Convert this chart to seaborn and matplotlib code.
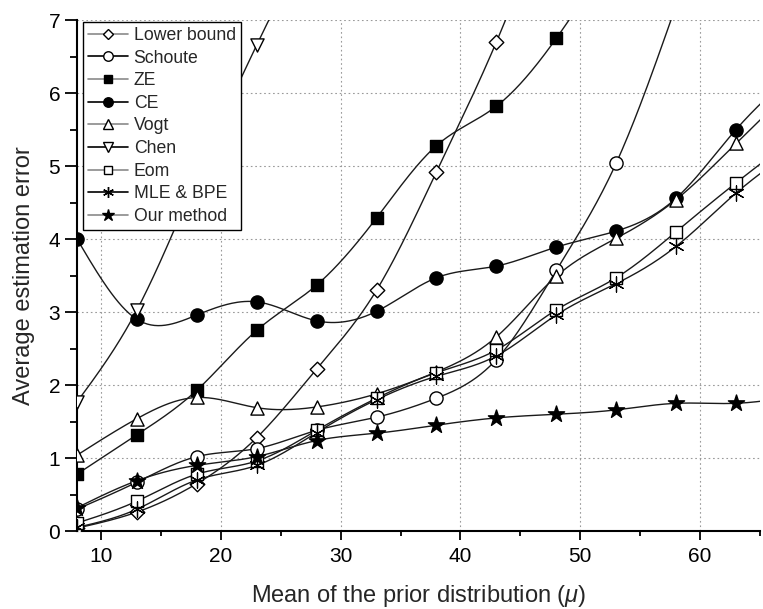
import numpy as np
import pandas as pd
import seaborn as sns
import matplotlib.pyplot as plt
from matplotlib.lines import Line2D

# x values (mean of the prior distribution)
mu = [8, 13, 18, 23, 28, 33, 38, 43, 48, 53, 58, 63, 68]
nan = np.nan

lower_bound = [0.04, 0.26, 0.65, 1.28, 2.22, 3.30, 4.92, 6.70, 8.8, nan, nan, nan, nan]
schoute = [0.30, 0.67, 1.02, 1.13, 1.38, 1.56, 1.82, 2.35, 3.57, 5.04, 7.2, nan, nan]
ze = [0.78, 1.32, 1.93, 2.75, 3.37, 4.29, 5.28, 5.82, 6.75, 8.0, nan, nan, nan]
ce = [4.00, 2.90, 2.96, 3.14, 2.88, 3.01, 3.47, 3.63, 3.89, 4.11, 4.56, 5.50, 6.3]
vogt = [1.04, 1.54, 1.83, 1.69, 1.70, 1.88, 2.18, 2.66, 3.49, 4.01, 4.54, 5.31, 6.1]
chen = [1.77, 3.03, 4.85, 6.66, 8.3, nan, nan, nan, nan, nan, nan, nan, nan]
eom = [0.11, 0.41, 0.78, 0.96, 1.38, 1.82, 2.17, 2.48, 3.03, 3.47, 4.10, 4.77, 5.4]
mle_bpe = [0.05, 0.30, 0.70, 0.90, 1.35, 1.80, 2.12, 2.40, 2.96, 3.39, 3.90, 4.63, 5.25]
our_method = [0.32, 0.69, 0.90, 1.02, 1.24, 1.34, 1.45, 1.55, 1.60, 1.66, 1.75, 1.75, 1.85]

names = ["Lower bound", "Schoute", "ZE", "CE", "Vogt", "Chen", "Eom", "MLE & BPE", "Our method"]
values = [lower_bound, schoute, ze, ce, vogt, chen, eom, mle_bpe, our_method]
# marker, face colour, size
styles = [("D", "white", 55), ("o", "white", 90), ("s", "black", 65), ("o", "black", 90),
          ("^", "white", 90), ("v", "white", 90), ("s", "white", 65), ((6, 2, 0), "black", 120),
          ("*", "black", 150)]


def natural_spline(x, y, n=400):
    # natural cubic spline through the points, just for the smooth connecting line
    x = np.asarray(x, float)
    y = np.asarray(y, float)
    k = len(x)
    h = np.diff(x)
    A = np.zeros((k, k))
    b = np.zeros(k)
    A[0, 0] = A[-1, -1] = 1
    for i in range(1, k - 1):
        A[i, i - 1] = h[i - 1]
        A[i, i] = 2 * (h[i - 1] + h[i])
        A[i, i + 1] = h[i]
        b[i] = 6 * ((y[i + 1] - y[i]) / h[i] - (y[i] - y[i - 1]) / h[i - 1])
    M = np.linalg.solve(A, b)
    xs = np.linspace(x[0], x[-1], n)
    j = np.clip(np.searchsorted(x, xs) - 1, 0, k - 2)
    t0 = x[j + 1] - xs
    t1 = xs - x[j]
    hj = h[j]
    ys = (M[j] * t0 ** 3 / (6 * hj) + M[j + 1] * t1 ** 3 / (6 * hj)
          + (y[j] / hj - M[j] * hj / 6) * t0 + (y[j + 1] / hj - M[j + 1] * hj / 6) * t1)
    return xs, ys


sns.set_style("ticks")
plt.rcParams["font.family"] = ["Liberation Sans", "DejaVu Sans"]
plt.rcParams["mathtext.fontset"] = "custom"
plt.rcParams["mathtext.it"] = "Liberation Sans:italic"
plt.rcParams["mathtext.rm"] = "Liberation Sans"

fig = plt.figure(figsize=(7.63, 6.09), dpi=100)
ax = fig.add_axes([0.101, 0.128, 0.895, 0.839])

line_col = "#1a1a1a"
handles = []
for i, (name, vals) in enumerate(zip(names, values)):
    df = pd.DataFrame({"mu": mu, "err": vals}).dropna()
    xs, ys = natural_spline(df["mu"], df["err"])
    sns.lineplot(x=xs, y=ys, ax=ax, color=line_col, lw=1.0, sort=False, estimator=None, legend=False, zorder=2)
    mk, fc, s = styles[i]
    if mk == (6, 2, 0):
        sns.scatterplot(x=df["mu"], y=df["err"], ax=ax, marker=mk, s=s, color="black",
                        linewidth=0.9, legend=False, zorder=3)
    else:
        sns.scatterplot(x=df["mu"], y=df["err"], ax=ax, marker=mk, s=s, color=fc,
                        edgecolor="black", linewidth=1.0, legend=False, zorder=3)
    legend_line = "#8a8a8a" if i % 2 == 0 else "black"
    handles.append(Line2D([0], [0], color=legend_line, lw=1.2, marker=mk, markersize=np.sqrt(s) * 0.72,
                          markerfacecolor=fc, markeredgecolor="black", markeredgewidth=1.0, label=name))

ax.set_xlim(8, 65)
ax.set_ylim(0, 7)
ax.set_xticks([10, 20, 30, 40, 50, 60])
ax.set_xticks([15, 25, 35, 45, 55, 65], minor=True)
ax.set_yticks(range(0, 8))
ax.set_yticks(np.arange(0.5, 7, 1.0), minor=True)
ax.grid(True, which="major", linestyle=(0, (1.5, 2.5)), color="#9a9a9a", lw=0.8)
sns.despine(ax=ax)
for sp in ["left", "bottom"]:
    ax.spines[sp].set_linewidth(1.5)
    ax.spines[sp].set_color("black")
ax.tick_params(which="both", direction="out", width=1.3, labelsize=15, colors="black")
ax.tick_params(axis="x", which="major", length=6.5, pad=5)
ax.tick_params(axis="x", which="minor", length=3.6)
ax.tick_params(axis="y", which="major", length=8.6, pad=3.5)
ax.tick_params(axis="y", which="minor", length=5)

ax.set_xlabel(r"Mean of the prior distribution ($\mu$)", fontsize=17, labelpad=12)
ax.set_ylabel("Average estimation error", fontsize=17, labelpad=10)

leg = ax.legend(handles=handles, loc="upper left", bbox_to_anchor=(0.008, 0.997), fontsize=12.7,
                frameon=True, fancybox=False, framealpha=1, edgecolor="black", handlelength=2.3,
                handletextpad=0.3, labelspacing=0.32, borderpad=0.3, borderaxespad=0)
leg.get_frame().set_linewidth(1.0)
leg.set_zorder(5)

fig.savefig("out.png", dpi=100)
